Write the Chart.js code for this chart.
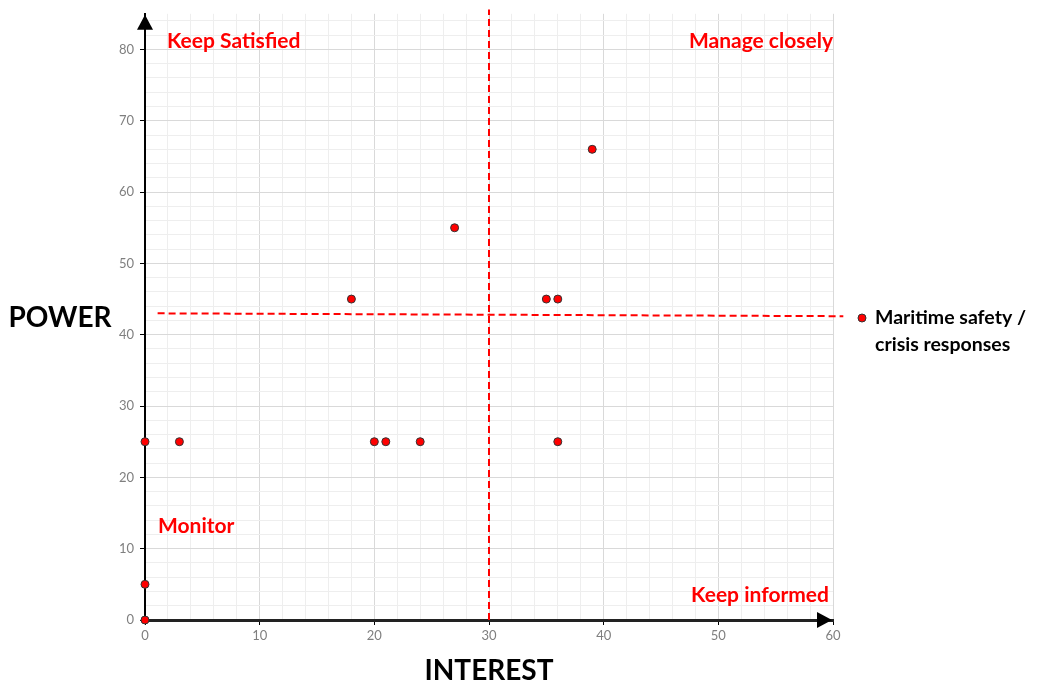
<!DOCTYPE html>
<html>
<head>
<meta charset="utf-8">
<script src="https://cdn.jsdelivr.net/npm/chart.js@4"></script>
<style>
  html, body { margin: 0; padding: 0; background: #fff; }
  #wrap { width: 1043px; height: 686px; }
</style>
</head>
<body>
<div id="wrap"><canvas id="matrix"></canvas></div>
<script>
// stakeholder scores (interest, power)
const interest = [0, 0, 0, 3, 18, 20, 21, 24, 27, 35, 36, 36, 39];
const power    = [0, 5, 25, 25, 45, 25, 25, 25, 55, 45, 45, 25, 66];

const seriesName = "Maritime safety / crisis responses";
const legendLines = ["Maritime safety /", "crisis responses"];

// quadrant divider lines
const splitX = [[30, 0], [30, 85.6]];
const splitY = [[1.1, 43.0], [60.9, 42.6]];

const quadrantNames = ["Keep Satisfied", "Manage closely", "Monitor", "Keep informed"];
const axisNames = { x: "INTEREST", y: "POWER" };

const xTicks = [0, 10, 20, 30, 40, 50, 60];
const yTicks = [0, 10, 20, 30, 40, 50, 60, 70, 80];

const RED = "#ff0000";
const FONT = "Lato, 'Open Sans', sans-serif";

const pts = interest.map((x, i) => ({ x: x, y: power[i] }));

function minorTicks(max, step) {
  const t = [];
  for (let v = 0; v <= max; v += step) t.push({ value: v });
  return t;
}

// arrows, titles, quadrant labels and the legend
const decorations = {
  id: "decorations",
  afterDraw(chart) {
    const ctx = chart.ctx;
    const a = chart.chartArea;
    ctx.save();

    // axis arrows
    ctx.fillStyle = "#000";
    ctx.beginPath();
    ctx.moveTo(a.left, a.top + 1);
    ctx.lineTo(a.left - 8, a.top + 16);
    ctx.lineTo(a.left + 8, a.top + 16);
    ctx.closePath();
    ctx.fill();
    ctx.beginPath();
    ctx.moveTo(a.right - 1, a.bottom);
    ctx.lineTo(a.right - 16, a.bottom - 8);
    ctx.lineTo(a.right - 16, a.bottom + 8);
    ctx.closePath();
    ctx.fill();

    // quadrant labels
    ctx.fillStyle = RED;
    ctx.font = "bold 21px " + FONT;
    ctx.textBaseline = "middle";
    ctx.textAlign = "left";
    ctx.fillText(quadrantNames[0], a.left + 22, 41);
    ctx.fillText(quadrantNames[2], a.left + 13, 526);
    ctx.textAlign = "right";
    ctx.fillText(quadrantNames[1], a.right, 41);
    ctx.fillText(quadrantNames[3], a.right - 4, 595);

    // axis titles
    ctx.fillStyle = "#000";
    ctx.font = "bold 28px " + FONT;
    ctx.textAlign = "center";
    ctx.fillText(axisNames.y, 60, 318);
    ctx.fillText(axisNames.x, (a.left + a.right) / 2, 671);

    // legend
    ctx.beginPath();
    ctx.arc(862, 318, 4, 0, Math.PI * 2);
    ctx.fillStyle = RED;
    ctx.fill();
    ctx.lineWidth = 1;
    ctx.strokeStyle = "#333";
    ctx.stroke();
    ctx.fillStyle = "#000";
    ctx.font = "bold 19.5px " + FONT;
    ctx.textAlign = "left";
    legendLines.forEach((s, i) => ctx.fillText(s, 875, 318 + i * 27));

    ctx.restore();
  }
};

new Chart(document.getElementById("matrix"), {
  type: "scatter",
  plugins: [decorations],
  data: {
    datasets: [
      {
        label: seriesName,
        data: pts,
        order: 0,
        clip: false,
        pointRadius: 4,
        pointHoverRadius: 4,
        pointBackgroundColor: RED,
        pointBorderColor: "#333",
        pointBorderWidth: 1
      },
      {
        label: "split x",
        data: splitX.map(p => ({ x: p[0], y: p[1] })),
        order: 1,
        showLine: true,
        pointRadius: 0,
        borderColor: RED,
        borderWidth: 2,
        borderDash: [7, 4],
        clip: false
      },
      {
        label: "split y",
        data: splitY.map(p => ({ x: p[0], y: p[1] })),
        order: 1,
        showLine: true,
        pointRadius: 0,
        borderColor: RED,
        borderWidth: 2,
        borderDash: [7, 4],
        clip: false
      }
    ]
  },
  options: {
    responsive: true,
    maintainAspectRatio: false,
    animation: false,
    layout: { padding: { left: 0, right: 210, top: 12, bottom: 0 } },
    plugins: {
      legend: { display: false },
      tooltip: { enabled: false }
    },
    scales: {
      x: {
        type: "linear",
        min: 0,
        max: 60,
        afterBuildTicks: s => { s.ticks = minorTicks(60, 2); },
        afterFit: s => { s.height = 66; },
        border: { color: "#222", width: 3 },
        grid: {
          color: c => (c.tick && c.tick.value % 10 === 0 ? "#d9d9d9" : "#eeeeee"),
          tickColor: c => (c.tick && c.tick.value % 10 === 0 ? "#000" : "rgba(0,0,0,0)"),
          tickLength: 5
        },
        ticks: {
          autoSkip: false,
          maxRotation: 0,
          padding: 3,
          color: "#7f7f7f",
          font: { family: FONT, size: 13 },
          callback: v => (xTicks.includes(v) ? String(v) : "")
        }
      },
      y: {
        type: "linear",
        min: 0,
        max: 85,
        afterBuildTicks: s => { s.ticks = minorTicks(84, 2); },
        afterFit: s => { s.width = 145; },
        border: { color: "#000", width: 2 },
        grid: {
          color: c => (c.tick && c.tick.value % 10 === 0 ? "#d9d9d9" : "#eeeeee"),
          tickColor: c => (c.tick && c.tick.value % 10 === 0 ? "#000" : "rgba(0,0,0,0)"),
          tickLength: 5
        },
        ticks: {
          autoSkip: false,
          padding: 6,
          color: "#7f7f7f",
          font: { family: FONT, size: 13 },
          callback: v => (yTicks.includes(v) ? String(v) : "")
        }
      }
    }
  }
});
</script>
</body>
</html>
